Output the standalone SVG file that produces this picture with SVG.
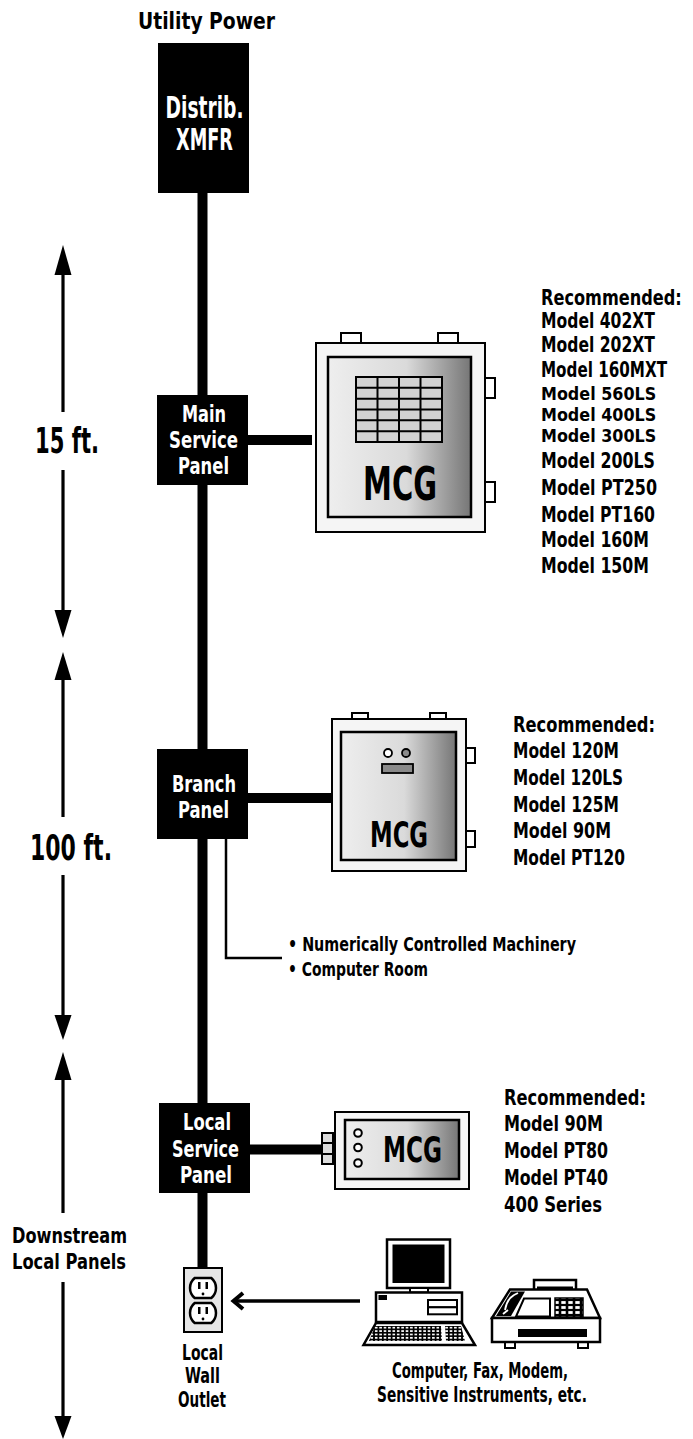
<svg xmlns="http://www.w3.org/2000/svg" width="693" height="1439" viewBox="0 0 693 1439">
<defs>
<linearGradient id="mcgGrad" x1="0" y1="0" x2="1" y2="0">
<stop offset="0" stop-color="#eeeeee"/>
<stop offset="0.55" stop-color="#dadada"/>
<stop offset="1" stop-color="#767676"/>
</linearGradient>
<pattern id="keys" width="4.4" height="3.4" patternUnits="userSpaceOnUse">
<rect width="4.4" height="3.4" fill="#000"/>
<rect x="0.9" y="0.8" width="2.6" height="1.7" fill="#fff"/>
</pattern>
<pattern id="pad" width="7" height="5" patternUnits="userSpaceOnUse">
<rect width="7" height="5" fill="#000"/>
<rect x="1.3" y="1.1" width="4.4" height="2.8" fill="#fff"/>
</pattern>
</defs>
<style>
.t{font-family:"Liberation Sans Narrow","DejaVu Sans Condensed","Liberation Sans",Arial,sans-serif;font-weight:bold;fill:#000}
.w{fill:#fff}
.m{text-anchor:middle}
.panel{fill:#000}
.enc{fill:#f5f5f5;stroke:#000;stroke-width:2}
.inner{fill:url(#mcgGrad);stroke:#000;stroke-width:2.5}
.tab{fill:#fff;stroke:#000;stroke-width:2}
.dim{stroke:#000;stroke-width:3.2;fill:none}
.head{fill:#000}
.bus{stroke:#000;stroke-width:10;fill:none}
.thin{stroke:#000;stroke-width:2.5;fill:none}
.ol{fill:#fff;stroke:#000;stroke-width:2.5}
.list{font-size:21px}
.tight{font-size:18.5px}
</style>

<text class="t m" x="206.5" y="29" font-size="23.5" textLength="137" lengthAdjust="spacingAndGlyphs">Utility Power</text>

<g id="connectors">
<line class="bus" x1="202.5" y1="190" x2="202.5" y2="1269"/>
<line class="bus" x1="246" y1="440" x2="312" y2="440"/>
<line class="bus" x1="246" y1="798" x2="332" y2="798"/>
<line class="bus" x1="248" y1="1149.5" x2="322" y2="1149.5"/>
<polyline class="thin" points="226,838 226,958 282,958"/>
<line x1="360" y1="1301" x2="236" y2="1301" stroke="#000" stroke-width="3.5"/>
<polyline points="243,1293 233.5,1301 243,1309" fill="none" stroke="#000" stroke-width="4"/>
</g>

<g id="xmfr">
<rect class="panel" x="158" y="43" width="91" height="150"/>
<text class="t w m" x="204.5" y="118" font-size="30" textLength="78" lengthAdjust="spacingAndGlyphs">Distrib.</text>
<text class="t w m" x="204.5" y="150" font-size="30" textLength="57" lengthAdjust="spacingAndGlyphs">XMFR</text>
</g>

<g id="main-panel">
<rect class="panel" x="157" y="395" width="91" height="90"/>
<text class="t w m" x="204" y="422" font-size="23" textLength="44" lengthAdjust="spacingAndGlyphs">Main</text>
<text class="t w m" x="203.5" y="448" font-size="23" textLength="69" lengthAdjust="spacingAndGlyphs">Service</text>
<text class="t w m" x="203.5" y="474" font-size="23" textLength="51" lengthAdjust="spacingAndGlyphs">Panel</text>
</g>

<g id="main-mcg">
<rect class="tab" x="341" y="333" width="20" height="10"/>
<rect class="tab" x="438" y="333" width="20" height="10"/>
<rect class="tab" x="484" y="378" width="11" height="20"/>
<rect class="tab" x="484" y="482" width="11" height="20"/>
<rect class="enc" x="316" y="343" width="169" height="189"/>
<rect class="inner" x="328" y="357" width="143" height="160"/>
<rect x="356" y="377" width="86" height="65" fill="#d2d2d2" stroke="#000" stroke-width="2"/>
<path d="M377.5,377V442M399,377V442M420.5,377V442M356,387.8H442M356,398.7H442M356,409.5H442M356,420.3H442M356,431.2H442" stroke="#000" stroke-width="2" fill="none"/>
<text class="t m" x="400" y="500" font-size="46" textLength="74" lengthAdjust="spacingAndGlyphs">MCG</text>
</g>

<g id="main-list" class="t list" transform="matrix(0.8 0 0 1 541 0)">
<text x="0" y="305" textLength="176" lengthAdjust="spacingAndGlyphs">Recommended:</text>
<text x="0" y="328" textLength="142.5" lengthAdjust="spacingAndGlyphs">Model 402XT</text>
<text x="0" y="352" textLength="142.5" lengthAdjust="spacingAndGlyphs">Model 202XT</text>
<text x="0" y="377" textLength="157.5" lengthAdjust="spacingAndGlyphs">Model 160MXT</text>
<text class="tight" x="0" y="400.5" textLength="144" lengthAdjust="spacingAndGlyphs">Model 560LS</text>
<text class="tight" x="0" y="421.5" textLength="144" lengthAdjust="spacingAndGlyphs">Model 400LS</text>
<text class="tight" x="0" y="442.5" textLength="144" lengthAdjust="spacingAndGlyphs">Model 300LS</text>
<text x="0" y="468" textLength="142.5" lengthAdjust="spacingAndGlyphs">Model 200LS</text>
<text x="0" y="495" textLength="145" lengthAdjust="spacingAndGlyphs">Model PT250</text>
<text x="0" y="522" textLength="142.5" lengthAdjust="spacingAndGlyphs">Model PT160</text>
<text x="0" y="547" textLength="135" lengthAdjust="spacingAndGlyphs">Model 160M</text>
<text x="0" y="573" textLength="135" lengthAdjust="spacingAndGlyphs">Model 150M</text>
</g>

<g id="branch-panel">
<rect class="panel" x="157" y="749" width="91" height="90"/>
<text class="t w m" x="204" y="792" font-size="23" textLength="64" lengthAdjust="spacingAndGlyphs">Branch</text>
<text class="t w m" x="203.5" y="818" font-size="23" textLength="51" lengthAdjust="spacingAndGlyphs">Panel</text>
</g>

<g id="branch-mcg">
<rect class="tab" x="352" y="713" width="16" height="7"/>
<rect class="tab" x="430" y="713" width="16" height="7"/>
<rect class="tab" x="466" y="748" width="9" height="15"/>
<rect class="tab" x="466" y="831" width="9" height="16"/>
<rect class="enc" x="332" y="719" width="134" height="152"/>
<rect class="inner" x="341" y="732" width="115" height="128"/>
<circle cx="388" cy="753" r="4" fill="#fff" stroke="#000" stroke-width="1.8"/>
<circle cx="406" cy="753" r="4" fill="#8a8a8a" stroke="#000" stroke-width="1.8"/>
<rect x="382" y="764" width="31" height="9" fill="#8a8a8a" stroke="#000" stroke-width="1.8"/>
<text class="t m" x="399" y="847" font-size="35" textLength="58" lengthAdjust="spacingAndGlyphs">MCG</text>
</g>

<g id="branch-list" class="t list">
<text x="513" y="732" textLength="142" lengthAdjust="spacingAndGlyphs">Recommended:</text>
<text x="513" y="758" textLength="106" lengthAdjust="spacingAndGlyphs">Model 120M</text>
<text x="513" y="785" textLength="110" lengthAdjust="spacingAndGlyphs">Model 120LS</text>
<text x="513" y="812" textLength="106" lengthAdjust="spacingAndGlyphs">Model 125M</text>
<text x="513" y="838" textLength="98" lengthAdjust="spacingAndGlyphs">Model 90M</text>
<text x="513" y="865" textLength="112" lengthAdjust="spacingAndGlyphs">Model PT120</text>
</g>

<g id="branch-loads" class="t">
<text x="288" y="951" font-size="19" textLength="288" lengthAdjust="spacingAndGlyphs">• Numerically Controlled Machinery</text>
<text x="288" y="976" font-size="19" textLength="140" lengthAdjust="spacingAndGlyphs">• Computer Room</text>
</g>

<g id="local-panel">
<rect class="panel" x="159" y="1103" width="91" height="90"/>
<text class="t w m" x="207" y="1130" font-size="23" textLength="48" lengthAdjust="spacingAndGlyphs">Local</text>
<text class="t w m" x="205.5" y="1157" font-size="23" textLength="67" lengthAdjust="spacingAndGlyphs">Service</text>
<text class="t w m" x="206" y="1183" font-size="23" textLength="52" lengthAdjust="spacingAndGlyphs">Panel</text>
</g>

<g id="local-mcg">
<rect x="322" y="1133" width="11" height="10" fill="#dcdcdc" stroke="#000" stroke-width="2"/>
<rect x="322" y="1143" width="11" height="11" fill="#dcdcdc" stroke="#000" stroke-width="2"/>
<rect x="322" y="1154" width="11" height="10" fill="#dcdcdc" stroke="#000" stroke-width="2"/>
<rect class="enc" x="335" y="1112" width="134" height="77"/>
<rect class="inner" x="345" y="1120" width="114" height="59"/>
<circle cx="358" cy="1133" r="3.8" fill="#fff" stroke="#000" stroke-width="2"/>
<circle cx="358" cy="1147.5" r="3.8" fill="#fff" stroke="#000" stroke-width="2"/>
<circle cx="358" cy="1163" r="3.8" fill="#fff" stroke="#000" stroke-width="2"/>
<text class="t m" x="412.5" y="1162" font-size="35" textLength="59" lengthAdjust="spacingAndGlyphs">MCG</text>
</g>

<g id="local-list" class="t list">
<text x="504" y="1105" textLength="142" lengthAdjust="spacingAndGlyphs">Recommended:</text>
<text x="504" y="1131" textLength="99" lengthAdjust="spacingAndGlyphs">Model 90M</text>
<text x="504" y="1158" textLength="104" lengthAdjust="spacingAndGlyphs">Model PT80</text>
<text x="504" y="1185" textLength="104" lengthAdjust="spacingAndGlyphs">Model PT40</text>
<text x="504" y="1212" textLength="98" lengthAdjust="spacingAndGlyphs">400 Series</text>
</g>

<g id="wall-outlet">
<rect x="184" y="1268" width="38" height="64" fill="#e6e6e6" stroke="#000" stroke-width="2"/>
<path class="ol" d="M194.7,1278H211.3A13,13 0 0 1 211.3,1298H194.7A13,13 0 0 1 194.7,1278Z"/>
<path class="ol" d="M194.7,1303H211.3A13,13 0 0 1 211.3,1323H194.7A13,13 0 0 1 194.7,1303Z"/>
<rect x="198" y="1282" width="2.5" height="7" fill="#000"/>
<rect x="205.5" y="1282" width="2.5" height="7" fill="#000"/>
<circle cx="203" cy="1294" r="1.4" fill="#000"/>
<rect x="198" y="1307" width="2.5" height="7" fill="#000"/>
<rect x="205.5" y="1307" width="2.5" height="7" fill="#000"/>
<circle cx="203" cy="1319" r="1.4" fill="#000"/>
<text class="t m" x="202.5" y="1360" font-size="21" textLength="41" lengthAdjust="spacingAndGlyphs">Local</text>
<text class="t m" x="202.5" y="1383" font-size="21" textLength="35" lengthAdjust="spacingAndGlyphs">Wall</text>
<text class="t m" x="202" y="1407" font-size="21" textLength="48" lengthAdjust="spacingAndGlyphs">Outlet</text>
</g>

<g id="devices">
<g id="computer">
<rect x="387" y="1239.5" width="63" height="48.5" fill="#fff" stroke="#000" stroke-width="2.5"/>
<rect x="392.5" y="1244.5" width="52" height="38.5" fill="#000"/>
<rect x="410" y="1288" width="18" height="4.5" fill="#fff" stroke="#000" stroke-width="2"/>
<rect x="376" y="1292.5" width="86" height="29.5" fill="#fff" stroke="#000" stroke-width="2.5"/>
<rect x="378.5" y="1295" width="8.5" height="5" fill="#000"/>
<rect x="428" y="1300" width="29" height="7.3" fill="#fff" stroke="#000" stroke-width="2"/>
<rect x="428" y="1307.3" width="29" height="7" fill="#fff" stroke="#000" stroke-width="2"/>
<polygon points="376,1323 462,1323 475,1345 363.5,1345" fill="#fff" stroke="#000" stroke-width="2.5"/>
<polygon points="375,1326 441,1326 442,1341 369,1341" fill="url(#keys)"/>
<polygon points="445,1326 461,1326 465,1341 446,1341" fill="url(#keys)"/>
</g>
<g id="fax">
<rect x="534" y="1280" width="42" height="14" fill="#fff" stroke="#000" stroke-width="2.5"/>
<rect x="537" y="1286.5" width="36" height="6" fill="#000"/>
<polygon points="492,1318 510,1289.5 587,1289.5 600,1318" fill="#fff" stroke="#000" stroke-width="2.5"/>
<polygon points="496,1316 511,1291.5 525,1291.5 511,1316" fill="#000"/>
<path d="M514,1295 C509,1298 506,1304 505,1310 M508,1310 L503,1314 M514,1295 L518,1293" stroke="#fff" stroke-width="1.8" fill="none"/>
<polygon points="524,1298.5 550,1298.5 550,1316.5 516,1316.5" fill="#fff" stroke="#000" stroke-width="2"/>
<rect x="555" y="1298" width="28" height="19" fill="url(#pad)" stroke="#000" stroke-width="1.5"/>
<rect x="505" y="1340" width="10" height="8" fill="#fff" stroke="#000" stroke-width="2"/>
<rect x="578" y="1340" width="10" height="8" fill="#fff" stroke="#000" stroke-width="2"/>
<rect x="492" y="1318" width="108" height="24" fill="#fff" stroke="#000" stroke-width="2.5"/>
<rect x="518" y="1329" width="69" height="8" fill="#000"/>
</g>
<text class="t m" x="480" y="1378" font-size="21" textLength="176" lengthAdjust="spacingAndGlyphs">Computer, Fax, Modem,</text>
<text class="t m" x="482" y="1402" font-size="21" textLength="210" lengthAdjust="spacingAndGlyphs">Sensitive Instruments, etc.</text>
</g>

<g id="dimensions">
<polygon class="head" points="63,245 54.5,275 71.5,275"/>
<line class="dim" x1="63" y1="274" x2="63" y2="412"/>
<text class="t m" x="67" y="453" font-size="35" textLength="64" lengthAdjust="spacingAndGlyphs">15 ft.</text>
<line class="dim" x1="63" y1="470" x2="63" y2="611"/>
<polygon class="head" points="63,638 54.5,610 71.5,610"/>

<polygon class="head" points="63,652 54.5,680 71.5,680"/>
<line class="dim" x1="63" y1="679" x2="63" y2="817"/>
<text class="t m" x="71" y="860" font-size="36" textLength="82" lengthAdjust="spacingAndGlyphs">100 ft.</text>
<line class="dim" x1="63" y1="875" x2="63" y2="1016"/>
<polygon class="head" points="63,1040 54.5,1015 71.5,1015"/>

<polygon class="head" points="63,1052 54.5,1080 71.5,1080"/>
<line class="dim" x1="63" y1="1079" x2="63" y2="1213"/>
<text class="t m" x="69.5" y="1243" font-size="22" textLength="115" lengthAdjust="spacingAndGlyphs">Downstream</text>
<text class="t m" x="69" y="1269" font-size="22" textLength="114" lengthAdjust="spacingAndGlyphs">Local Panels</text>
<line class="dim" x1="63" y1="1282" x2="63" y2="1418"/>
<polygon class="head" points="63,1439 54.5,1416 71.5,1416"/>
</g>
</svg>
